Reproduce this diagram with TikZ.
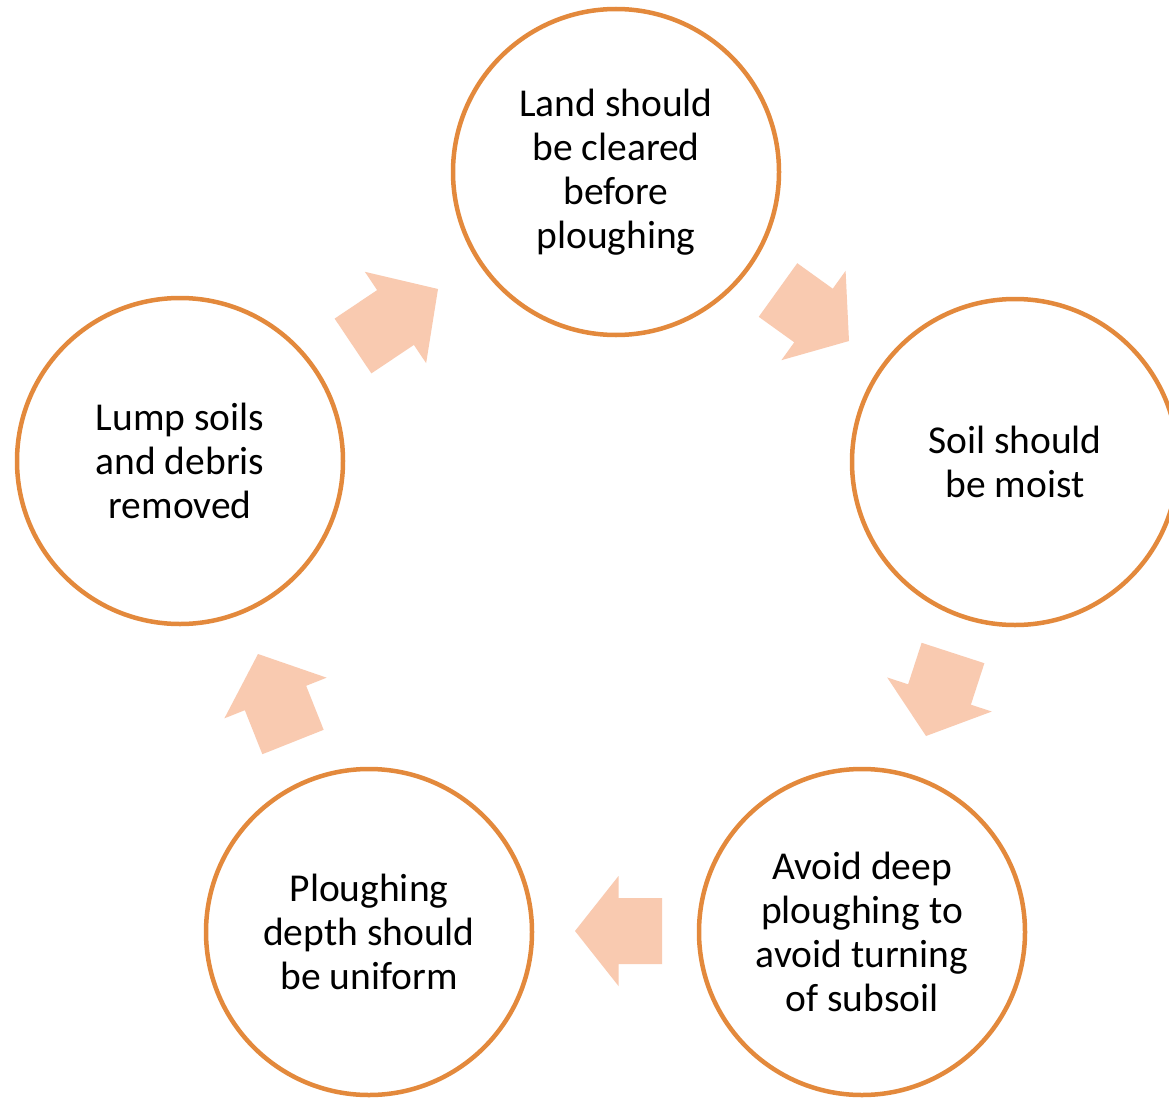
\documentclass[tikz,border=0pt]{standalone}
\usepackage{fontspec}
\setmainfont{Carlito}
\usetikzlibrary{calc}
\definecolor{ringorange}{HTML}{E3893C}
\definecolor{arrowpeach}{HTML}{F9CAB0}
\tikzset{
  stepcircle/.style={circle, draw=ringorange, line width=4.5pt, fill=white,
    minimum size=326pt, inner sep=0pt, align=center, text=black,
    font=\fontsize{39.5}{44}\selectfont},
  arrowfill/.style={fill=arrowpeach, draw=none}
}
\newcommand\blockarr[2]{%
  \path (#1) coordinate (ba) (#2) coordinate (bt);
  \path ($(ba)!0.5!(bt)$) coordinate (bh);
  \fill[arrowfill] ($(ba)!33pt!90:(bt)$) -- ($(bh)!33pt!90:(bt)$) -- ($(bh)!55pt!90:(bt)$) -- (bt)
     -- ($(bh)!55pt!-90:(bt)$) -- ($(bh)!33pt!-90:(bt)$) -- ($(ba)!33pt!-90:(bt)$) -- cycle;
}
\begin{document}
\begin{tikzpicture}[x=1pt,y=-1pt]
\clip (0,0) rectangle (1169,1097);
\fill[white] (0,0) rectangle (1169,1097);
\node[stepcircle] (c1) at (616,172) {Land should\\be cleared\\before\\ploughing};
\node[stepcircle] (c2) at (1015,462) {Soil should\\be moist};
\node[stepcircle] (c3) at (862,932) {Avoid deep\\ploughing to\\avoid turning\\of subsoil};
\node[stepcircle] (c4) at (369,932) {Ploughing\\depth should\\be uniform};
\node[stepcircle] (c5) at (180,461) {Lump soils\\and debris\\removed};
\coordinate (a1b) at (353,346); \coordinate (a1t) at (438,289);
\coordinate (a2b) at (778,290); \coordinate (a2t) at (849,341);
\coordinate (a3b) at (662,931); \coordinate (a3t) at (575,931);
\coordinate (a4b) at (953,653); \coordinate (a4t) at (926,736);
\coordinate (a5b) at (293,742); \coordinate (a5t) at (258,654);
\blockarr{a1b}{a1t}
\blockarr{a2b}{a2t}
\blockarr{a3b}{a3t}
\blockarr{a4b}{a4t}
\blockarr{a5b}{a5t}
\end{tikzpicture}
\end{document}
